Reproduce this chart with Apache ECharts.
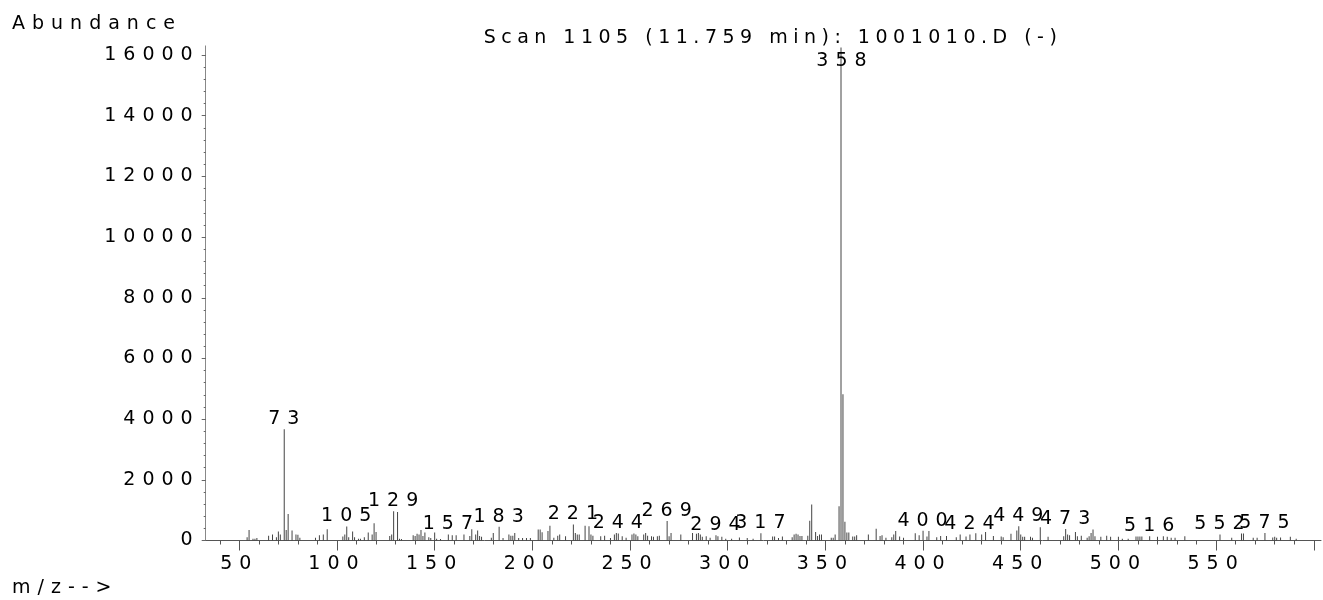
<!DOCTYPE html>
<html>
<head>
<meta charset="utf-8">
<title>Scan 1105 (11.759 min): 1001010.D (-)</title>
<script src="https://cdn.jsdelivr.net/npm/echarts@6/dist/echarts.min.js"></script>
<style>
  html, body { margin: 0; padding: 0; background: #fff; }
  #chart { width: 1323px; height: 600px; }
</style>
</head>
<body>
<div id="chart"></div>
<script>
// the printout uses very wide letter spacing, canvas can do that since Chrome 99
// (title is a bit tighter, it is told apart by its sans-serif fallback)
const fontDesc = Object.getOwnPropertyDescriptor(CanvasRenderingContext2D.prototype, 'font')
Object.defineProperty(CanvasRenderingContext2D.prototype, 'font', {
  get() { return fontDesc.get.call(this) },
  set(v) {
    fontDesc.set.call(this, v)
    this.letterSpacing = String(v).includes('sans-serif') ? '5.5px' : '7px'
  }
})

// spectrum sticks: m/z and abundance
const mz = [
  54, 55, 57, 58, 59, 65, 67, 69, 70, 71, 73, 74, 75, 77, 79, 80, 81, 89, 91, 93, 95,
  103, 104, 105, 106, 108, 109, 111, 112, 114, 116, 118, 119, 120, 127, 128, 129, 131, 132, 133,
  139, 140, 141, 142, 143, 144, 145, 147, 148, 150, 151, 153, 157, 159, 161, 165, 168, 169,
  171, 172, 173, 174, 179, 180, 183, 185, 188, 189, 190, 191, 193, 195, 197, 199,
  203, 204, 205, 208, 209, 211, 213, 214, 217, 221, 222, 223, 224, 227, 229, 230, 231, 235, 237,
  240, 242, 243, 244, 246, 248, 251, 252, 253, 254, 257, 258, 259, 261, 262, 264, 265,
  269, 270, 271, 276, 282, 284, 285, 286, 287, 289, 291, 294, 295, 297, 299,
  302, 306, 310, 313, 317, 323, 324, 326, 328, 333, 334, 335, 336, 337, 338, 341, 342, 343,
  345, 346, 347, 348, 353, 354, 355, 357, 358, 359, 360, 361, 362, 364, 365, 366,
  372, 376, 378, 379, 381, 384, 385, 386, 388, 390, 396, 398, 400, 402, 403, 407, 409,
  412, 417, 419, 422, 424, 427, 430, 432, 436, 440, 441, 445, 448, 449,
  450, 451, 452, 455, 456, 460, 464, 472, 473, 474, 475, 478, 479, 481, 484, 485, 486, 487, 488,
  491, 494, 496, 500, 502, 505, 509, 510, 511, 512, 516, 520, 523, 525, 527, 529, 534,
  552, 558, 563, 564, 569, 571, 575, 579, 580, 581, 583, 588, 591
]
const abundance = [
  110, 350, 60, 60, 80, 160, 200, 110, 300, 200, 3670, 350, 870, 330, 200, 190, 90, 90, 175, 200, 370,
  130, 200, 460, 110, 300, 110, 60, 60, 110, 260, 200, 570, 280, 150, 200, 960, 940, 60, 50,
  170, 150, 220, 200, 350, 150, 260, 110, 80, 260, 60, 50, 200, 175, 175, 200, 150, 370,
  200, 330, 150, 120, 90, 250, 450, 80, 200, 160, 160, 250, 80, 80, 80, 80,
  360, 360, 270, 310, 490, 90, 160, 200, 140, 530, 250, 200, 200, 490, 470, 200, 160, 140, 160,
  80, 200, 250, 230, 140, 90, 200, 230, 200, 140, 200, 250, 160, 140, 120, 140, 160,
  640, 140, 250, 200, 250, 220, 250, 200, 120, 140, 90, 170, 140, 120, 60,
  60, 100, 80, 60, 240, 130, 130, 80, 130, 110, 200, 220, 200, 150, 150, 160, 650, 1190,
  280, 150, 200, 200, 90, 90, 200, 1130, 16250, 4820, 620, 260, 260, 130, 130, 170,
  200, 390, 150, 170, 90, 110, 200, 310, 130, 90, 240, 170, 320, 130, 310, 110, 150,
  150, 110, 200, 130, 200, 240, 200, 280, 150, 130, 110, 220, 330, 470,
  200, 120, 120, 120, 90, 440, 120, 140, 380, 200, 170, 280, 140, 160, 90, 140, 250, 360, 140,
  120, 160, 120, 120, 60, 60, 130, 130, 130, 130, 140, 120, 140, 120, 90, 90, 140,
  200, 90, 230, 230, 90, 90, 250, 100, 120, 90, 100, 120, 60
]
const labelledPeaks = [73, 105, 129, 157, 183, 221, 244, 269, 294, 317, 358, 400, 424, 449, 473, 516, 552, 575]

const xTicks = [50, 100, 150, 200, 250, 300, 350, 400, 450, 500, 550, 600]
const xLabels = [50, 100, 150, 200, 250, 300, 350, 400, 450, 500, 550]
const yTicks = [0, 2000, 4000, 6000, 8000, 10000, 12000, 14000, 16000]

const xMinorTicks = []
for (let v = 40; v <= 600; v += 10) {
  if (v % 50 !== 0) xMinorTicks.push(v)
}
const yMinorTicks = []
for (let v = 0; v <= 16000; v += 400) yMinorTicks.push(v)

const FONT = 'DejaVu Sans'
const FONT_SIZE = 19
const X_MIN = 32.8
const X_MAX = 603.7
const Y_MAX = 16300

const chart = echarts.init(document.getElementById('chart'))

const data = mz.map((m, i) => {
  if (!labelledPeaks.includes(m)) return [m, abundance[i]]
  // base peak label sits inside the top of the plot
  if (m === 358) {
    return { value: [m, abundance[i]], label: { show: true, position: 'insideTop', distance: 1, offset: [4, 0] } }
  }
  return { value: [m, abundance[i]], label: { show: true } }
})

const option = {
  animation: false,
  backgroundColor: '#fff',
  grid: { left: 205.7, right: 2, top: 45.9, bottom: 59.5 },
  graphic: [
    {
      type: 'text', x: 773, y: 38,
      style: { text: 'Scan 1105 (11.759 min): 1001010.D (-)', fill: '#000', font: `${FONT_SIZE}px "${FONT}", sans-serif`, textAlign: 'center', textVerticalAlign: 'middle' }
    },
    {
      type: 'text', x: 12, y: 24,
      style: { text: 'Abundance', fill: '#000', font: `${FONT_SIZE}px "${FONT}"`, textAlign: 'left', textVerticalAlign: 'middle' }
    },
    {
      type: 'text', x: 12, y: 588,
      style: { text: 'm/z-->', fill: '#000', font: `${FONT_SIZE}px "${FONT}"`, textAlign: 'left', textVerticalAlign: 'middle' }
    }
  ],
  xAxis: [
    {
      type: 'value', min: X_MIN, max: X_MAX, position: 'bottom',
      axisLine: { show: true, lineStyle: { color: '#555', width: 1 } },
      axisTick: { show: true, customValues: xTicks, length: 10, lineStyle: { color: '#555' } },
      axisLabel: { customValues: xLabels, margin: 11, color: '#000', fontFamily: FONT, fontSize: FONT_SIZE },
      splitLine: { show: false }
    },
    {
      type: 'value', min: X_MIN, max: X_MAX, position: 'bottom',
      axisLine: { show: false },
      axisTick: { show: true, customValues: xMinorTicks, length: 4, lineStyle: { color: '#555' } },
      axisLabel: { show: false },
      splitLine: { show: false }
    }
  ],
  yAxis: [
    {
      type: 'value', min: 0, max: Y_MAX, position: 'left',
      axisLine: { show: true, lineStyle: { color: '#888', width: 1 } },
      axisTick: { show: true, customValues: yTicks, length: 4, lineStyle: { color: '#666' } },
      axisLabel: {
        customValues: yTicks, margin: 6, color: '#000', fontFamily: FONT, fontSize: FONT_SIZE,
        formatter: v => String(v)
      },
      splitLine: { show: false }
    },
    {
      type: 'value', min: 0, max: Y_MAX, position: 'left',
      axisLine: { show: false },
      axisTick: { show: true, customValues: yMinorTicks, length: 2, lineStyle: { color: '#666' } },
      axisLabel: { show: false },
      splitLine: { show: false }
    }
  ],
  series: [
    {
      type: 'bar',
      xAxisIndex: 0,
      yAxisIndex: 0,
      barWidth: 1,
      itemStyle: { color: '#444' },
      label: {
        show: false,
        position: 'top',
        distance: 2,
        offset: [3, 5],
        color: '#000',
        fontFamily: FONT,
        fontSize: FONT_SIZE,
        formatter: p => p.value[0]
      },
      data
    }
  ]
}

chart.setOption(option)
</script>
</body>
</html>
